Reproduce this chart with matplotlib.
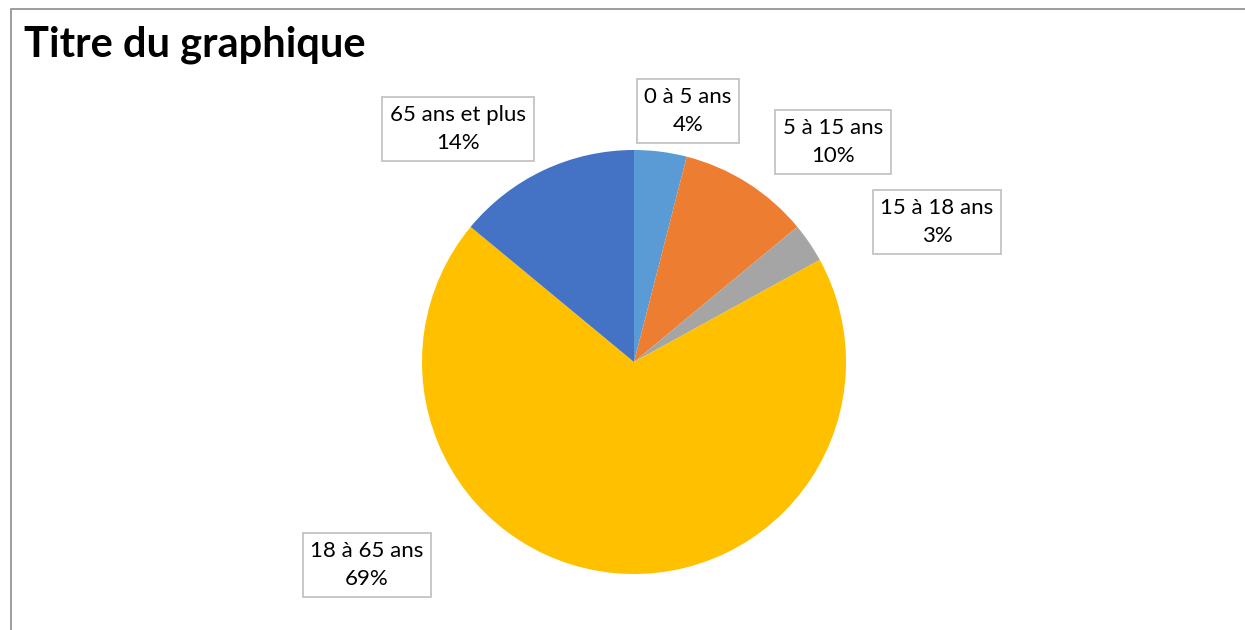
import matplotlib.pyplot as plt

categories = ['0 à 5 ans', '5 à 15 ans', '15 à 18 ans', '18 à 65 ans', '65 ans et plus']
values = [4, 10, 3, 69, 14]
colors = ['#5B9BD5', '#ED7D31', '#A5A5A5', '#FFC000', '#4472C4']

W, H = 1245, 630
# label box centres, in pixels from the top-left corner
label_pos = [(688, 111), (833, 142), (937, 222), (367, 565), (458, 129)]

plt.rcParams['font.family'] = ['Lato', 'DejaVu Sans']

fig = plt.figure(figsize=(W / 100, H / 100), dpi=100)
ax = fig.add_axes([0, 0, 1, 1])

ax.pie(values, colors=colors, startangle=90, counterclock=False,
       center=(634, H - 362), radius=212, frame=True,
       wedgeprops=dict(linewidth=0))
ax.set_xlim(0, W)
ax.set_ylim(0, H)
ax.set_aspect('equal')
ax.axis('off')

# chart frame: only left and top edges are visible
ax.plot([11, 11, W + 10], [-10, H - 9, H - 9], color='#8c8c8c', linewidth=1.2,
        solid_joinstyle='miter')

for cat, v, (x, y) in zip(categories, values, label_pos):
    ax.text(x, H - y, f'{cat}\n{v}%', ha='center', va='center', fontsize=16,
            linespacing=1.55, color='#000000',
            bbox=dict(boxstyle='square,pad=0.35', facecolor='white',
                      edgecolor='#bfbfbf', linewidth=1.2))

fig.text(24 / W, 1 - 45 / H, 'Titre du graphique', fontsize=30,
         fontweight='bold', ha='left', va='center')

fig.savefig('out.png', dpi=100)
